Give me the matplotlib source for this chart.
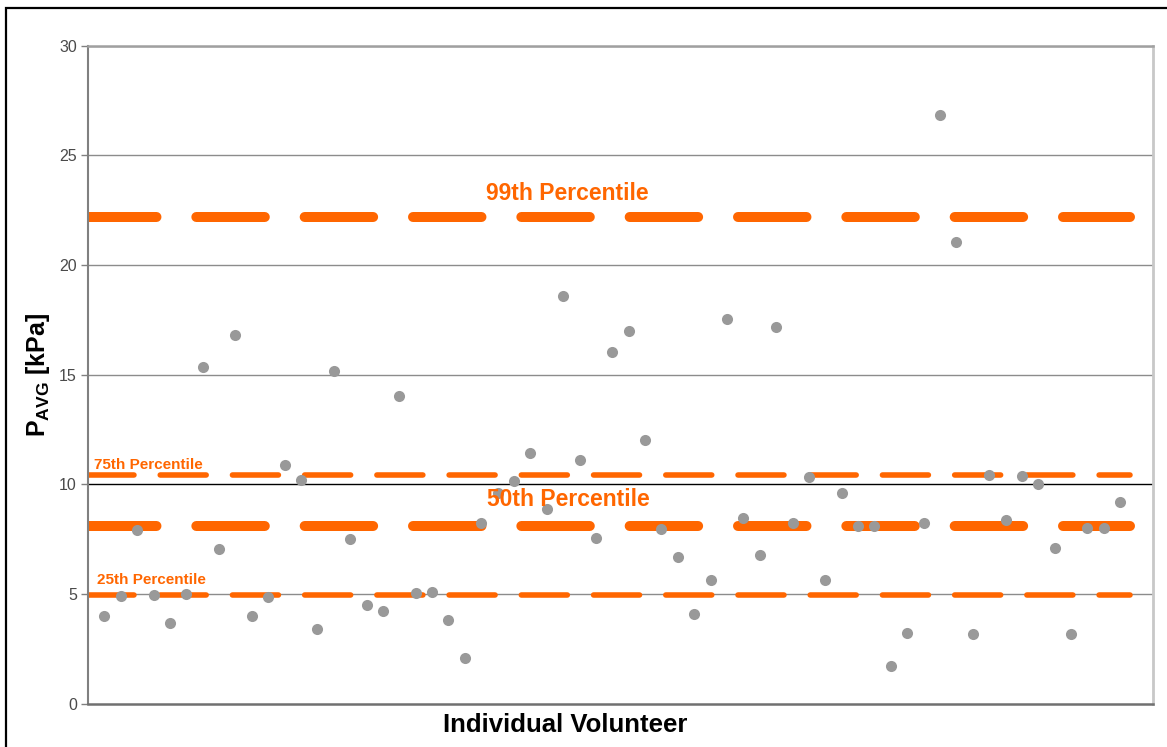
import matplotlib
matplotlib.use("Agg")
import matplotlib.pyplot as plt
from matplotlib.patches import Rectangle
import numpy as np

plt.rcParams['font.family'] = ['Liberation Sans', 'DejaVu Sans']
plt.rcParams['mathtext.fontset'] = 'custom'
plt.rcParams['mathtext.rm'] = 'Liberation Sans'
plt.rcParams['mathtext.bf'] = 'Liberation Sans:bold'
plt.rcParams['lines.scale_dashes'] = False

# Average pressure per volunteer [kPa]
p_avg = [4.01, 4.92, 7.93, 4.94, 3.68, 4.97, 15.34, 7.05, 16.78, 3.98,
         4.85, 10.88, 10.18, 3.41, 15.15, 7.52, 4.47, 4.21, 14.01, 5.05,
         5.08, 3.81, 2.07, 8.24, 9.60, 10.14, 11.40, 8.85, 18.59, 11.11,
         7.56, 16.02, 16.98, 12.01, 7.97, 6.70, 4.10, 5.65, 17.51, 8.48,
         6.76, 17.16, 8.21, 10.34, 5.65, 9.58, 8.07, 8.07, 1.73, 3.21,
         8.23, 26.84, 21.06, 3.18, 10.42, 8.36, 10.36, 10.00, 7.08, 3.18,
         7.98, 7.98, 9.17]
volunteer = list(range(1, len(p_avg) + 1))

# Percentile reference levels [kPa]
pct_labels = ['99th Percentile', '75th Percentile', '50th Percentile', '25th Percentile']
pct_values = [22.2, 10.4, 8.1, 4.95]

y_ticks = [0, 5, 10, 15, 20, 25, 30]

ORANGE = '#FF6600'
GREY_DOT = '#999999'

fig = plt.figure(figsize=(11.67, 7.47), dpi=100)
ax = fig.add_axes([88 / 1167, 43.5 / 747, 1065 / 1167, 658 / 747])

ax.set_xlim(0, 65)
ax.set_ylim(0, 30)

# horizontal grid
for yt in y_ticks[1:]:
    col = '#000000' if yt == 10 else '#8c8c8c'
    ax.axhline(yt, color=col, lw=1.0, zorder=1)

# percentile lines
x_end = len(p_avg) + 0.6
thick = dict(lw=7.2, dashes=(49.3, 28.7))
thin = dict(lw=4.0, dashes=(33.1, 18.9))
styles = [thick, thin, thick, thin]
for val, st in zip(pct_values, styles):
    ln, = ax.plot([0, x_end], [val, val], color=ORANGE, lw=st['lw'],
                  solid_capstyle='round', zorder=2)
    ln.set_dashes(st['dashes'])
    ln.set_dash_capstyle('round')

# data points
ax.plot(volunteer, p_avg, 'o', color=GREY_DOT, ms=8.0, mec='none', zorder=3)

# percentile annotations
big = dict(color=ORANGE, fontweight='bold', fontsize=16.5, ha='center', va='baseline')
small = dict(color=ORANGE, fontweight='bold', fontsize=11, ha='left', va='baseline')
ax.text(29.25, pct_values[0] + 0.75, pct_labels[0], **big)
ax.text(29.3, pct_values[2] + 0.9, pct_labels[2], **big)
ax.text(0.36, pct_values[1] + 0.27, pct_labels[1], **small)
ax.text(0.56, pct_values[3] + 0.5, pct_labels[3], **small)

# axes styling
ax.set_yticks(y_ticks)
ax.set_xticks([])
ax.tick_params(axis='y', direction='out', length=5, width=1, color='#808080',
               labelsize=11.5, labelcolor='#4a4a4a', pad=3)
ax.spines['left'].set_color('#808080')
ax.spines['left'].set_linewidth(1.5)
ax.spines['bottom'].set_color('#707070')
ax.spines['bottom'].set_linewidth(1.8)
ax.spines['top'].set_color('#a0a0a0')
ax.spines['top'].set_linewidth(1.8)
ax.spines['right'].set_color('#c8c8c8')
ax.spines['right'].set_linewidth(2.0)

ax.set_ylabel(r'$\mathbf{P_{AVG}}$ [kPa]', fontsize=18, fontweight='bold', labelpad=5)
ax.set_xlabel('Individual Volunteer', fontsize=18.5, fontweight='bold')
ax.xaxis.set_label_coords(0.448, -0.014)

# outer frame
fig.add_artist(Rectangle((6 / 1167, -0.05), 1.2, 1.05 - 8 / 747,
                         transform=fig.transFigure, fill=False,
                         ec='black', lw=1.6))

fig.savefig('out.png', dpi=100)
